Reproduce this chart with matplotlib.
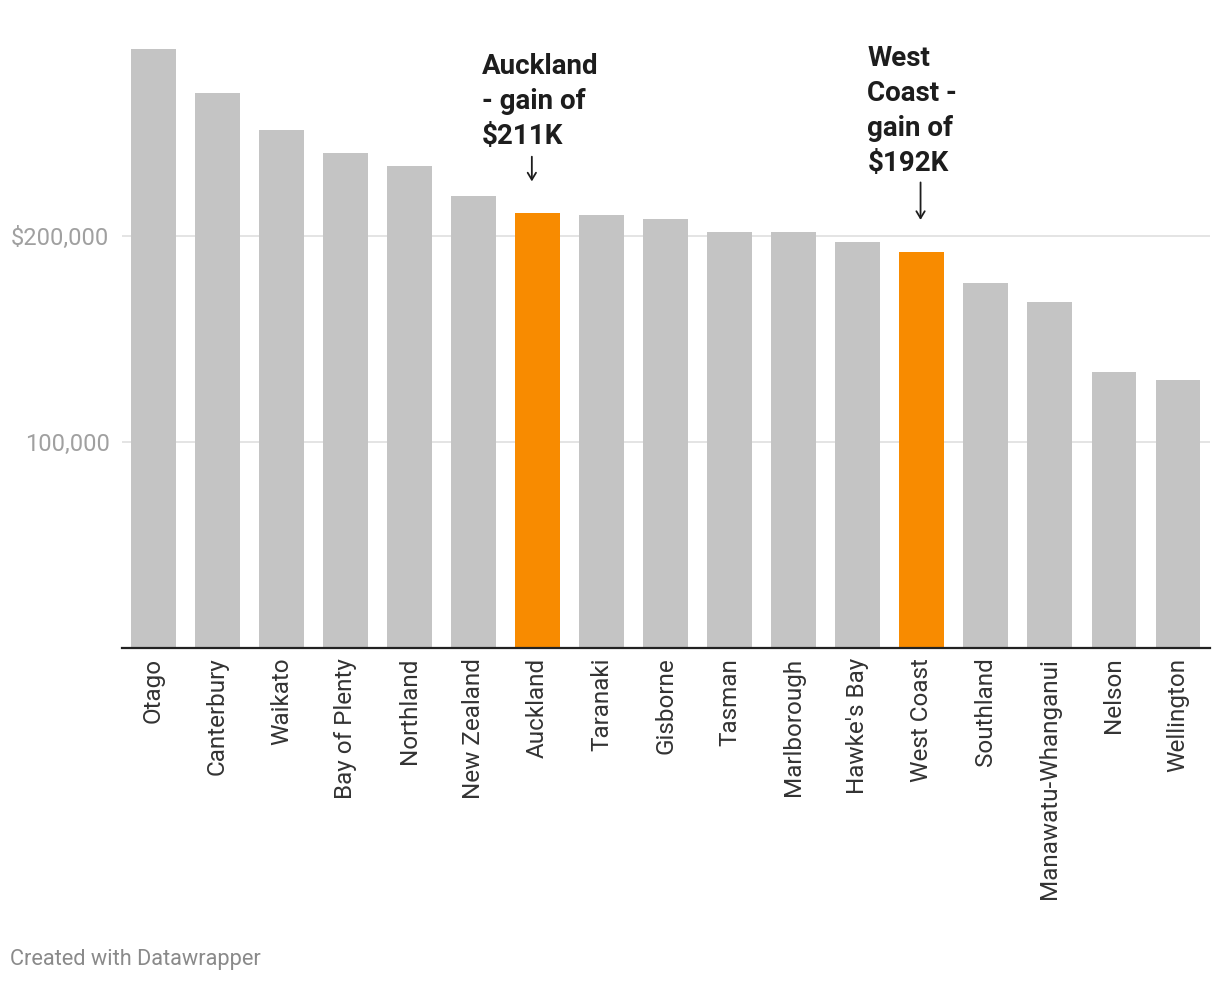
import matplotlib
matplotlib.use("Agg")
import matplotlib.pyplot as plt

plt.rcParams['font.family'] = ['Roboto', 'DejaVu Sans']

regions = ["Otago", "Canterbury", "Waikato", "Bay of Plenty", "Northland", "New Zealand",
           "Auckland", "Taranaki", "Gisborne", "Tasman", "Marlborough", "Hawke's Bay",
           "West Coast", "Southland", "Manawatu-Whanganui", "Nelson", "Wellington"]
gains = [291000, 269500, 251500, 240300, 234000, 219400, 211000, 210200, 208300,
         202000, 202000, 197000, 192000, 177200, 168000, 134000, 130000]
highlight = ["Auckland", "West Coast"]
ytick_values = [100000, 200000]
ytick_labels = ["100,000", "$200,000"]

GRAY = "#c4c4c4"
ORANGE = "#f88b00"

fig = plt.figure(figsize=(12.2, 9.84), dpi=100)
W, H = 1220, 984
ax = fig.add_axes([122 / W, 1 - 648 / H, (1210 - 122) / W, (648 - 30) / H])

x = list(range(len(regions)))
colors = [ORANGE if r in highlight else GRAY for r in regions]
ax.bar(x, gains, width=0.70, color=colors, zorder=2)

ax.set_xlim(-0.49, 16.5)
ax.set_ylim(0, 300000)

ax.set_yticks(ytick_values)
ax.set_yticklabels(ytick_labels)
ax.yaxis.grid(True, color="#e2e2e2", linewidth=1.3, zorder=0)
ax.tick_params(axis='y', length=0, pad=9, labelsize=17, labelcolor="#a0a0a0")

ax.set_xticks(x)
ax.set_xticklabels(regions, rotation=90, fontsize=17.5, color="#333333")
ax.tick_params(axis='x', length=0, pad=7)

for s in ["top", "right", "left"]:
    ax.spines[s].set_visible(False)
ax.spines["bottom"].set_color("#222222")
ax.spines["bottom"].set_linewidth(1.6)
ax.spines["bottom"].set_zorder(3)

ann_style = dict(fontsize=20, fontweight='bold', color="#1d1d1d", ha='left', va='top',
                 linespacing=1.38)
ax.text(5.13, 289000, "Auckland\n- gain of\n$211K", **ann_style)
ax.text(11.15, 292800, "West\nCoast -\ngain of\n$192K", **ann_style)

arrow = dict(arrowstyle='->, head_length=0.5, head_width=0.3', color="#1d1d1d", lw=1.3,
             shrinkA=0, shrinkB=0)
ax.annotate("", xy=(5.91, 226500), xytext=(5.91, 238500), arrowprops=arrow)
ax.annotate("", xy=(11.98, 207800), xytext=(11.98, 226000), arrowprops=arrow)

fig.text(10 / W, 1 - 959 / H, "Created with Datawrapper", fontsize=15.7, color="#8a8a8a",
         ha='left', va='center')

fig.savefig("out.png", dpi=100)
